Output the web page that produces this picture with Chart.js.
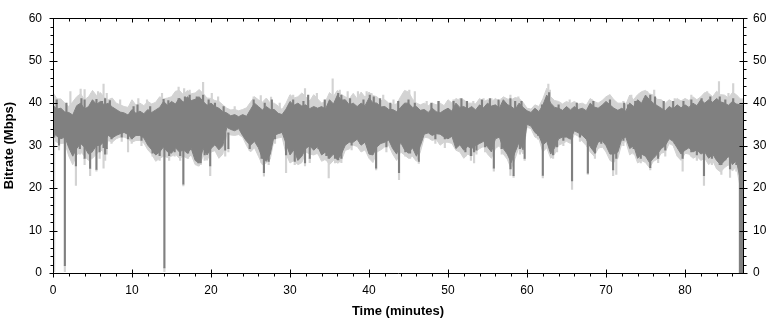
<!DOCTYPE html>
<html>
<head>
<meta charset="utf-8">
<script src="https://cdn.jsdelivr.net/npm/chart.js@4.4.0/dist/chart.umd.min.js"></script>
<style>
  html, body { margin: 0; padding: 0; background: #fff; }
  canvas { display: block; }
</style>
</head>
<body>
<canvas id="bitrateChart" width="774" height="321"></canvas>
<script>
// one sample every half minute, t = 0, 0.5, 1, ... (Mbps)
const binMinutes = 0.5;

const darkHigh = [
  39.5,38.6, 38.8,37.9, 37.8,37.2, 39.4,40.0, 38.6,39.2,
  40.8,39.7, 40.4,39.6, 40.0,39.1, 38.5,37.9, 37.7,37.2,
  38.5,37.6, 38.1,37.5, 38.5,37.8, 38.4,39.0, 40.4,39.5,
  40.4,39.8, 41.2,40.2, 41.5,40.6, 40.9,41.5, 40.4,39.5,
  40.0,39.2, 38.8,38.0, 37.7,37.0, 37.3,36.8, 37.3,36.9,
  38.5,40.0, 39.2,38.4, 39.2,38.5, 38.5,37.6, 37.3,38.6,
  40.4,39.5, 40.0,39.3, 39.6,38.7, 39.2,38.8, 39.2,38.6,
  40.8,39.8, 41.9,40.7, 40.8,39.6, 40.0,39.2, 40.0,39.4,
  41.2,40.1, 40.0,39.1, 39.2,38.5, 38.5,38.0, 39.0,40.0,
  40.0,39.0, 39.2,38.3, 38.5,37.8, 38.8,38.0, 37.7,38.3,
  38.8,38.1, 40.0,39.0, 39.2,38.6, 39.2,38.4, 39.6,38.9,
  40.0,39.3, 39.6,38.8, 40.8,39.7, 39.2,38.5, 40.0,39.0,
  38.2,37.8, 38.8,38.0, 39.5,41.9, 40.0,39.0, 38.8,38.3,
  39.2,38.4, 39.2,38.5, 38.8,38.2, 40.0,39.1, 38.8,39.5,
  40.4,39.6, 38.8,38.3, 38.8,38.1, 40.0,39.2, 40.8,40.0,
  41.9,40.8, 40.0,39.4, 38.8,38.2, 39.2,38.6, 39.6,38.9,
  39.6,39.0, 40.0,39.4, 40.8,40.0, 40.8,40.2, 41.1,40.3,
  40.0,39.5, 40.4,39.8, 39.6,39.6
];

const darkLow = [
  33.0,32.2, 31.6,32.0, 29.5,27.5, 29.3,30.5, 29.6,28.0,
  28.6,30.0, 30.1,31.0, 32.4,31.8, 32.4,32.8, 33.1,32.6,
  31.6,32.4, 32.4,31.8, 30.1,29.0, 27.8,28.5, 29.7,28.5,
  28.2,29.5, 28.5,29.0, 28.2,29.3, 26.5,25.9, 29.3,27.8,
  29.3,30.2, 29.0,30.0, 34.3,33.8, 33.5,34.0, 32.4,31.0,
  30.1,31.0, 29.5,27.0, 26.3,28.0, 32.4,32.8, 33.1,30.5,
  27.8,29.0, 26.5,27.5, 29.3,30.0, 28.9,29.8, 27.8,28.5,
  27.0,28.0, 26.6,28.0, 30.1,30.8, 30.8,31.5, 30.1,30.8,
  28.0,27.8, 29.7,30.5, 30.8,31.3, 29.3,28.0, 30.8,29.0,
  28.2,29.5, 27.5,30.0, 32.7,33.0, 32.4,32.8, 32.7,32.0,
  31.6,32.2, 29.3,30.2, 28.9,29.8, 29.3,30.0, 30.5,31.0,
  29.7,28.5, 31.6,32.0, 29.3,28.0, 26.0,28.5, 30.8,29.0,
  35.0,34.6, 33.1,32.4, 30.1,31.0, 28.0,29.5, 31.6,32.0,
  32.0,31.5, 33.5,33.0, 32.4,31.5, 29.7,28.5, 30.8,31.2,
  30.0,28.0, 28.0,28.5, 31.6,32.0, 29.3,30.0, 27.0,28.0,
  27.5,26.0, 27.0,28.0, 29.3,30.0, 31.6,31.0, 29.5,28.0,
  28.9,29.5, 28.5,29.0, 28.0,28.5, 27.0,28.0, 26.5,25.5,
  26.4,27.5, 25.5,26.5, 22.0,20.0
];

const lightHigh = [
  42.5,41.0, 41.0,40.0, 39.2,40.3, 41.5,42.2, 40.8,41.5,
  43.0,41.8, 42.5,41.3, 40.8,41.2, 40.0,39.6, 39.2,39.0,
  40.8,39.5, 40.0,39.4, 40.4,39.8, 40.2,41.5, 41.0,41.2,
  41.5,42.8, 43.0,42.0, 43.0,42.2, 42.4,43.2, 42.3,41.2,
  41.1,40.6, 40.4,39.6, 38.8,38.4, 38.5,38.2, 38.5,38.9,
  40.2,41.5, 40.8,40.2, 41.2,40.0, 40.0,39.3, 38.5,40.0,
  42.0,41.2, 41.5,42.4, 41.5,40.5, 42.0,41.0, 40.0,40.4,
  42.5,41.6, 43.0,42.0, 41.5,41.0, 42.3,41.0, 42.6,41.4,
  42.6,41.8, 41.5,40.6, 40.8,40.0, 39.6,39.8, 41.5,43.0,
  42.6,41.0, 40.0,39.6, 40.0,39.4, 40.0,39.6, 40.0,39.4,
  40.8,40.0, 41.1,40.6, 40.8,40.0, 40.0,39.8, 41.1,40.3,
  40.8,40.3, 41.1,40.4, 41.5,41.0, 40.8,41.3, 41.1,40.2,
  38.8,38.6, 39.6,39.2, 41.0,43.5, 41.5,40.6, 40.4,39.8,
  40.4,39.9, 40.4,39.8, 40.0,39.5, 41.1,40.4, 40.0,40.6,
  41.5,42.0, 40.8,40.0, 40.0,39.6, 41.9,40.8, 42.0,42.7,
  43.0,42.2, 41.9,40.9, 40.8,40.0, 40.8,40.2, 41.1,40.5,
  41.1,40.6, 41.5,40.8, 41.5,42.5, 42.3,41.5, 42.8,42.0,
  41.9,41.2, 42.5,42.0, 41.0,41.0
];

const lightLow = [
  31.5,30.8, 30.5,30.6, 27.5,25.5, 27.8,28.5, 27.5,26.5,
  27.0,28.0, 29.0,28.5, 31.2,30.8, 31.6,32.0, 32.0,31.6,
  30.8,31.2, 31.2,30.6, 29.0,28.0, 26.3,27.0, 27.5,27.2,
  27.5,28.0, 27.0,27.5, 27.0,27.8, 25.5,25.2, 27.5,26.5,
  28.5,28.8, 27.0,28.0, 32.8,32.5, 32.4,32.6, 32.0,30.0,
  28.5,29.5, 27.5,25.5, 25.9,26.8, 31.6,31.8, 32.0,28.0,
  25.9,26.5, 25.5,26.0, 28.5,28.0, 27.8,28.2, 26.3,26.8,
  25.5,26.5, 25.9,26.5, 28.9,29.2, 30.1,29.8, 28.5,29.0,
  27.0,26.0, 28.5,29.0, 29.7,30.0, 28.0,26.5, 28.5,27.8,
  27.0,27.5, 26.3,28.5, 32.0,31.8, 31.2,31.5, 30.1,30.8,
  30.8,30.5, 28.9,28.5, 27.0,28.0, 27.5,28.5, 29.3,29.8,
  28.0,27.0, 29.3,30.0, 28.0,26.8, 24.5,27.0, 29.7,28.0,
  34.3,34.0, 32.0,31.6, 28.5,29.5, 27.0,28.0, 30.1,30.5,
  31.0,30.5, 32.7,32.2, 31.0,30.0, 28.5,27.5, 29.3,29.8,
  28.5,26.5, 26.0,27.0, 30.5,31.0, 27.8,28.5, 25.9,26.5,
  26.0,24.8, 26.3,26.8, 28.2,28.5, 30.5,30.0, 27.5,26.5,
  28.2,28.0, 27.0,27.5, 26.5,27.0, 25.5,26.5, 24.5,23.8,
  24.8,25.5, 24.0,25.0, 20.0,18.0
];

// single-frame dips below the band (minutes, Mbps)
const dipTimes = [
  0.15, 0.76, 1.5, 2.2, 2.6, 2.9, 3.4, 4.0, 4.7, 4.9, 5.5, 5.9, 6.4, 6.6, 6.8, 7.4, 8.7, 9.5, 9.96, 11.2,
  12.3, 12.6, 13.1, 13.5, 14.1, 14.7, 15.4, 16.1, 16.5, 17.1, 17.8, 18.4, 18.7, 19.2, 19.9, 20.9, 21.8, 22.2, 24.9, 26.4,
  26.7, 27.3, 28.1, 29.5, 30.6, 31.3, 31.9, 32.5, 33.6, 34.6, 34.9, 35.7, 36.1, 36.5, 37.8, 38.9, 39.9, 40.9, 42.2, 43.3,
  43.8, 44.6, 45.2, 45.8, 46.3, 48.4, 49.6, 51.3, 52.2, 52.9, 53.3, 53.6, 54.7, 55.8, 56.8, 57.9, 58.3, 59.1, 59.7, 61.4,
  62.0, 63.3, 63.8, 64.6, 65.7, 66.7, 67.7, 68.6, 69.4, 70.9, 71.3, 72.2, 73.5, 74.4, 74.9, 75.6, 76.6, 77.5, 78.7, 79.7,
  80.8, 81.5, 82.4, 83.4, 84.4, 84.6, 85.1, 85.7, 86.5, 86.95, 87.1, 87.25
];
const dipDark = [
  32.0, 30.1, 1.7, 29.3, 28.5, 25.2, 29.3, 27.0, 24.6, 28.5, 24.4, 28.5, 29.5, 28.0, 29.3, 31.6, 32.0, 31.6, 31.6, 31.2,
  30.1, 28.2, 28.5, 27.6, 1.2, 27.6, 28.5, 27.6, 20.9, 28.2, 28.5, 25.9, 25.9, 27.8, 25.2, 30.8, 28.9, 29.3, 29.3, 27.0,
  23.6, 26.3, 31.6, 27.8, 26.3, 28.5, 25.9, 27.0, 29.3, 27.6, 27.0, 27.0, 26.6, 27.0, 30.1, 30.5, 29.3, 24.7, 29.7, 29.3,
  23.6, 28.5, 28.2, 28.9, 26.3, 31.6, 31.6, 30.1, 28.5, 27.6, 28.5, 28.9, 29.7, 24.7, 29.3, 24.5, 22.9, 29.3, 27.0, 32.4,
  23.0, 27.8, 29.7, 31.2, 21.7, 32.0, 23.5, 28.2, 30.5, 24.3, 27.0, 31.2, 29.3, 27.0, 27.8, 24.8, 27.0, 28.9, 30.5, 27.0,
  28.5, 27.8, 22.9, 27.0, 25.5, 25.5, 26.6, 24.5, 25.5, 0, 0, 0
];
const dipLight = [
  0.3, 29.0, 0.3, 28.0, 27.0, 20.6, 28.0, 25.5, 22.9, 27.5, 24.0, 27.0, 24.7, 26.5, 28.0, 30.5, 31.0, 28.5, 30.5, 30.0,
  29.0, 27.5, 27.5, 26.5, 0.3, 26.5, 27.5, 26.5, 20.5, 27.0, 27.5, 25.2, 25.5, 26.5, 22.9, 29.5, 27.5, 28.5, 28.8, 26.0,
  22.8, 25.5, 30.5, 23.6, 25.5, 27.5, 25.2, 26.0, 28.0, 26.5, 22.4, 25.9, 25.9, 26.0, 29.0, 29.5, 28.0, 24.3, 28.5, 28.0,
  22.0, 27.5, 27.0, 28.0, 25.8, 30.5, 29.5, 29.0, 27.5, 26.5, 25.9, 28.0, 28.5, 24.0, 28.0, 23.0, 22.5, 28.0, 26.5, 31.5,
  22.4, 27.0, 28.5, 30.0, 19.7, 31.0, 23.2, 27.0, 29.5, 22.9, 23.2, 30.0, 28.0, 25.9, 26.5, 24.3, 26.0, 27.5, 29.5, 24.0,
  27.5, 26.5, 20.6, 25.5, 24.5, 23.2, 25.5, 22.5, 24.0, 0, 0, 0
];

// single-frame peaks above the band
const darkPeakTimes = [
  0.47, 1.7, 3.6, 4.0, 5.1, 5.5, 6.2, 6.6, 7.2, 10.2, 10.7, 12.3, 14.0, 14.6, 15.9, 16.7, 17.3, 18.2, 19.0, 19.7,
  20.5, 21.6, 25.4, 26.8, 27.7, 30.4, 31.7, 32.3, 34.4, 36.1, 36.5, 37.6, 39.3, 40.1, 40.6, 41.4, 42.7, 43.7, 45.0, 45.8,
  47.9, 48.8, 50.7, 51.7, 52.4, 54.3, 55.3, 56.4, 57.9, 58.5, 59.3, 61.9, 62.5, 62.8, 64.0, 66.3, 68.4, 70.5, 72.3, 72.8,
  73.7, 74.9, 75.6, 76.2, 77.3, 78.5, 79.8, 80.8, 82.1, 83.2, 84.4, 85.1, 86.1
];
const darkPeak = [
  40.8, 40.0, 41.1, 40.8, 40.0, 40.9, 40.4, 41.1, 40.6, 39.2, 39.6, 39.2, 40.9, 40.6, 41.1, 41.5, 41.9, 41.5, 41.9, 40.8,
  40.0, 39.2, 40.8, 40.0, 40.8, 40.8, 40.4, 41.9, 40.8, 42.3, 41.9, 41.1, 40.8, 41.9, 41.5, 41.1, 40.0, 40.4, 40.8, 40.0,
  40.0, 40.4, 40.4, 41.1, 40.4, 40.8, 41.1, 40.8, 41.1, 40.4, 40.4, 39.6, 41.1, 42.5, 39.6, 40.0, 40.4, 40.8, 40.0, 39.6,
  40.4, 41.1, 41.9, 41.5, 40.4, 40.4, 40.4, 40.8, 41.1, 41.5, 41.5, 40.8, 41.1
];
const lightPeakTimes = [
  2.2, 3.5, 4.0, 5.7, 6.4, 6.8, 8.5, 10.8, 11.9, 13.8, 15.9, 16.6, 17.3, 18.4, 19.0, 20.1, 20.9, 23.0, 25.4, 26.3,
  27.6, 28.7, 30.4, 31.9, 33.4, 35.4, 36.3, 37.3, 38.6, 39.7, 40.3, 41.8, 43.1, 45.1, 45.8, 47.3, 48.8, 50.7, 51.5, 53.2,
  54.5, 55.5, 56.8, 57.9, 58.9, 62.7, 62.9, 65.4, 68.2, 70.5, 70.9, 72.2, 73.2, 75.2, 76.1, 78.7, 80.8, 82.8, 84.3, 85.5,
  86.1
];
const lightPeak = [
  42.7, 43.3, 43.2, 42.7, 44.5, 42.3, 40.8, 41.1, 40.8, 42.3, 43.8, 43.4, 43.1, 42.7, 44.9, 42.3, 41.5, 39.2, 41.5, 41.8,
  41.4, 40.0, 41.9, 43.4, 42.3, 45.7, 43.1, 42.7, 42.7, 42.7, 42.3, 41.9, 40.8, 43.1, 42.7, 40.4, 40.4, 40.8, 41.1, 40.4,
  41.1, 41.1, 41.1, 41.9, 41.5, 44.5, 43.1, 40.8, 40.8, 41.9, 40.8, 40.4, 41.9, 42.7, 43.1, 41.1, 41.9, 42.7, 45.1, 42.3,
  44.6
];

const darkGray = '#808080';
const lightGray = '#d3d3d3';
const bandCore = 33;
const bandMid = 36;
const bandTop = 38;

function toPoints(values) {
  return values.map((v, i) => ({ x: i * binMinutes, y: v }));
}

function spikes(times, from, to) {
  return times.map((t, i) => ({
    x: t,
    y: [Array.isArray(from) ? from[i] : from, Array.isArray(to) ? to[i] : to]
  }));
}

const axisFont = { family: 'Arial, "Liberation Sans", sans-serif', size: 12 };
const titleFont = { family: 'Arial, "Liberation Sans", sans-serif', size: 13, weight: 'bold' };

// frame with major ticks every 10 and minor ticks every 2
const frameTicks = {
  id: 'frameTicks',
  afterDatasetsDraw(chart) {
    const { ctx, chartArea: a, scales: { x, y } } = chart;
    const L = Math.round(a.left) + 0.5, R = Math.round(a.right) + 0.5;
    const T = Math.round(a.top) + 0.5, B = Math.round(a.bottom) + 0.5;
    ctx.save();
    ctx.strokeStyle = '#000';
    ctx.lineWidth = 1;
    ctx.beginPath();
    ctx.rect(L, T, R - L, B - T);
    for (let v = 0; v <= 86; v += 2) {
      const px = Math.round(x.getPixelForValue(v)) + 0.5;
      const major = v % 10 === 0;
      ctx.moveTo(px, major ? B - 4 : B);
      ctx.lineTo(px, major ? B + 4 : B + 3);
      ctx.moveTo(px, T);
      ctx.lineTo(px, major ? T + 4 : T + 3);
    }
    for (let v = 0; v <= 60; v += 2) {
      const py = Math.round(y.getPixelForValue(v)) + 0.5;
      const major = v % 10 === 0;
      ctx.moveTo(major ? L - 4 : L - 3, py);
      ctx.lineTo(major ? L + 4 : L, py);
      ctx.moveTo(major ? R - 4 : R, py);
      ctx.lineTo(major ? R + 4 : R + 3, py);
    }
    ctx.stroke();
    ctx.restore();
  }
};

const spikeStyle = { type: 'bar', barThickness: 1.5, grouped: false, borderWidth: 0 };

new Chart(document.getElementById('bitrateChart'), {
  type: 'line',
  data: {
    datasets: [
      { ...spikeStyle, data: spikes(dipTimes, dipDark, bandCore), backgroundColor: darkGray, order: 0 },
      { ...spikeStyle, data: spikes(darkPeakTimes, bandMid, darkPeak), backgroundColor: darkGray, order: 0 },
      { data: toPoints(darkHigh), borderColor: darkGray, backgroundColor: darkGray, fill: '+1', order: 1 },
      { data: toPoints(darkLow), borderColor: darkGray, fill: false, order: 2 },
      { ...spikeStyle, data: spikes(dipTimes, dipLight, dipDark), backgroundColor: lightGray, order: 3 },
      { ...spikeStyle, data: spikes(lightPeakTimes, bandTop, lightPeak), backgroundColor: lightGray, order: 3 },
      { data: toPoints(lightHigh), borderColor: lightGray, backgroundColor: lightGray, fill: '+1', order: 4 },
      { data: toPoints(lightLow), borderColor: lightGray, fill: false, order: 5 }
    ]
  },
  options: {
    responsive: false,
    animation: false,
    events: [],
    layout: { padding: { top: 11, left: 0, right: 0, bottom: 0 } },
    elements: { point: { radius: 0 }, line: { borderWidth: 1, tension: 0 } },
    plugins: {
      legend: { display: false },
      tooltip: { enabled: false },
      filler: { drawTime: 'beforeDatasetDraw' }
    },
    scales: {
      x: {
        type: 'linear', min: 0, max: 87.34, offset: false,
        grid: { display: false, drawTicks: false }, border: { display: false },
        ticks: { stepSize: 10, includeBounds: false, padding: 10, color: '#000', font: axisFont, maxRotation: 0 },
        title: { display: true, text: 'Time (minutes)', color: '#000', font: titleFont, padding: { top: 0, bottom: 2 } },
        afterFit: s => { s.height = 48; }
      },
      y: {
        position: 'left', min: 0, max: 60,
        grid: { display: false, drawTicks: false }, border: { display: false },
        ticks: { stepSize: 10, padding: 11, color: '#000', font: axisFont },
        title: { display: true, text: 'Bitrate (Mbps)', color: '#000', font: titleFont, padding: { top: 2, bottom: 0 } },
        afterFit: s => { s.width = 53; }
      },
      y2: {
        position: 'right', min: 0, max: 60,
        grid: { display: false, drawTicks: false }, border: { display: false },
        ticks: { stepSize: 10, padding: 10, color: '#000', font: axisFont },
        afterFit: s => { s.width = 31; }
      }
    }
  },
  plugins: [frameTicks]
});
</script>
</body>
</html>
